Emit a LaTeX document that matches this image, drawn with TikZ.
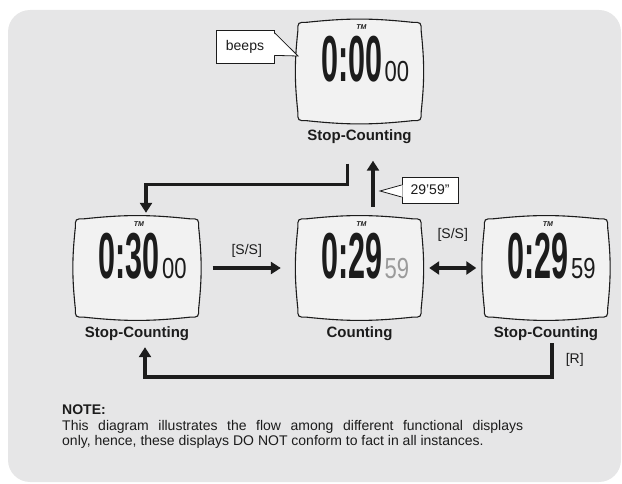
\documentclass[tikz,border=0pt]{standalone}
\usepackage{fontspec}
\setmainfont{Liberation Sans}
\usepackage{graphicx}
\usetikzlibrary{arrows.meta}
\definecolor{panel}{RGB}{230,230,231}
\definecolor{lcdbg}{RGB}{242,242,242}
\definecolor{ink}{RGB}{28,28,28}
\definecolor{dim}{RGB}{155,155,155}

\begin{document}
\begin{tikzpicture}[x=1pt, y=-1pt,
    display/.style={minimum width=123pt, minimum height=98pt, inner sep=0pt},
    lcdline/.style={draw=ink, line width=1.1pt, fill=lcdbg},
    bigdig/.style={inner sep=0pt, text=ink, font=\bfseries\fontsize{65}{65}\selectfont},
    smalldig/.style={inner sep=0pt, font=\fontsize{29}{29}\selectfont},
    tmark/.style={inner sep=0pt, text=ink, font=\bfseries\itshape\fontsize{7}{7}\selectfont},
    lbl/.style={inner sep=0pt, text=ink, font=\bfseries\fontsize{15}{15}\selectfont},
    keylbl/.style={inner sep=0pt, text=ink, font=\fontsize{14}{14}\selectfont},
    tag/.style={draw=ink, line width=0.8pt, fill=white, inner sep=0pt,
      text=ink, font=\fontsize{14}{14}\selectfont},
    tagline/.style={draw=ink, line width=0.8pt},
    flow/.style={draw=ink, line width=3.5pt, -{Triangle[length=10pt,width=12pt]}},
    both/.style={draw=ink, line width=3.5pt,
      {Triangle[length=10pt,width=13pt]}-{Triangle[length=10pt,width=13pt]}}]
  \useasboundingbox (0,0) rectangle (622,484);
  % grijze achtergrond
  \fill[panel, rounded corners=22pt] (8,10) rectangle (621,482);
  % displays
  \foreach \n/\x/\y/\bg/\sm/\dc/\lab in {
      top/359.5/71.5/0:00/00/ink/Stop-Counting,
      left/137/268/0:30/00/ink/Stop-Counting,
      mid/359.5/268/0:29/59/dim/Counting,
      right/546/268/0:29/59/ink/Stop-Counting}
  {
    \node[display] (\n) at (\x,\y) {};
    \draw[lcdline] ([xshift=9pt]\n.north west) to[bend left=6] ([xshift=-9pt]\n.north east)
      .. controls (\n.north east) .. ([yshift=-9pt]\n.north east)
      to[bend left=6] ([yshift=9pt]\n.south east)
      .. controls (\n.south east) .. ([xshift=-9pt]\n.south east)
      to[bend left=6] ([xshift=9pt]\n.south west)
      .. controls (\n.south west) .. ([yshift=9pt]\n.south west)
      to[bend left=6] ([yshift=-9pt]\n.north west)
      .. controls (\n.north west) .. cycle;
    \node[tmark] (\n-tm) at ([xshift=2pt,yshift=-5pt]\n.north) {TM};
    \node[bigdig, anchor=base east] (\n-big) at ([xshift=23pt,yshift=-10.5pt]\n.center)
      {\scalebox{0.47}[1]{\bg}};
    \node[smalldig, text=\dc, anchor=base west] (\n-small) at ([xshift=2pt]\n-big.base east)
      {\scalebox{0.76}[1]{\sm}};
    \node[lbl] (\n-lbl) at ([yshift=-16pt]\n.south) {\lab};
  }
  % beeps
  \node[tag, minimum width=58pt, minimum height=33pt] (beeps) at (245,46.5) {beeps};
  \coordinate (beeps-tip) at (298,56);
  \fill[white] ([shift={(-1pt,-3pt)}]beeps.north east) -- (beeps-tip)
    -- ([shift={(-1pt,8pt)}]beeps.south east) -- cycle;
  \draw[tagline] ([yshift=-3pt]beeps.north east) -- (beeps-tip) -- ([yshift=8pt]beeps.south east);
  % 29'59"
  \node[tag, minimum width=56pt, minimum height=26pt] (time) at (430,190) {29'59"};
  \coordinate (time-tip) at (380,191);
  \fill[white] ([shift={(1pt,5pt)}]time.west) -- (time-tip)
    -- ([shift={(1pt,-7pt)}]time.west) -- cycle;
  \draw[tagline] ([yshift=5pt]time.west) -- (time-tip) -- ([yshift=-7pt]time.west);
  % pijlen
  \draw[flow] ([xshift=-12pt,yshift=-43pt]top.south) -- ++(0,21)
    -| ([xshift=9pt,yshift=6pt]left.north);
  \draw[flow] ([xshift=13.5pt,yshift=12pt]mid.north) -- ([xshift=13.5pt,yshift=-40pt]top.south);
  \draw[flow] ([xshift=14pt]left.east) -- ([xshift=-17pt]mid.west)
    node[keylbl, midway, yshift=17pt] (ss1) {[S/S]};
  \draw[both] ([xshift=8pt]mid.east) -- ([xshift=-8pt]right.west)
    node[keylbl, midway, yshift=33pt] (ss2) {[S/S]};
  \draw[flow] ([xshift=6pt,yshift=-26pt]right.south)
    -- ++(0,34) node[keylbl, midway, anchor=west, xshift=12pt] (reset) {[R]}
    -| ([xshift=8pt,yshift=-30pt]left.south);
  % opmerking
  \node[anchor=north west, inner sep=0pt, text width=461pt, align=justify, text=ink,
    font=\fontsize{14}{15.5}\selectfont] (note) at (62,405)
    {\textbf{NOTE:}\\
     This diagram illustrates the flow among different functional displays\linebreak
     only, hence, these displays DO NOT conform to fact in all instances.};
\end{tikzpicture}
\end{document}
